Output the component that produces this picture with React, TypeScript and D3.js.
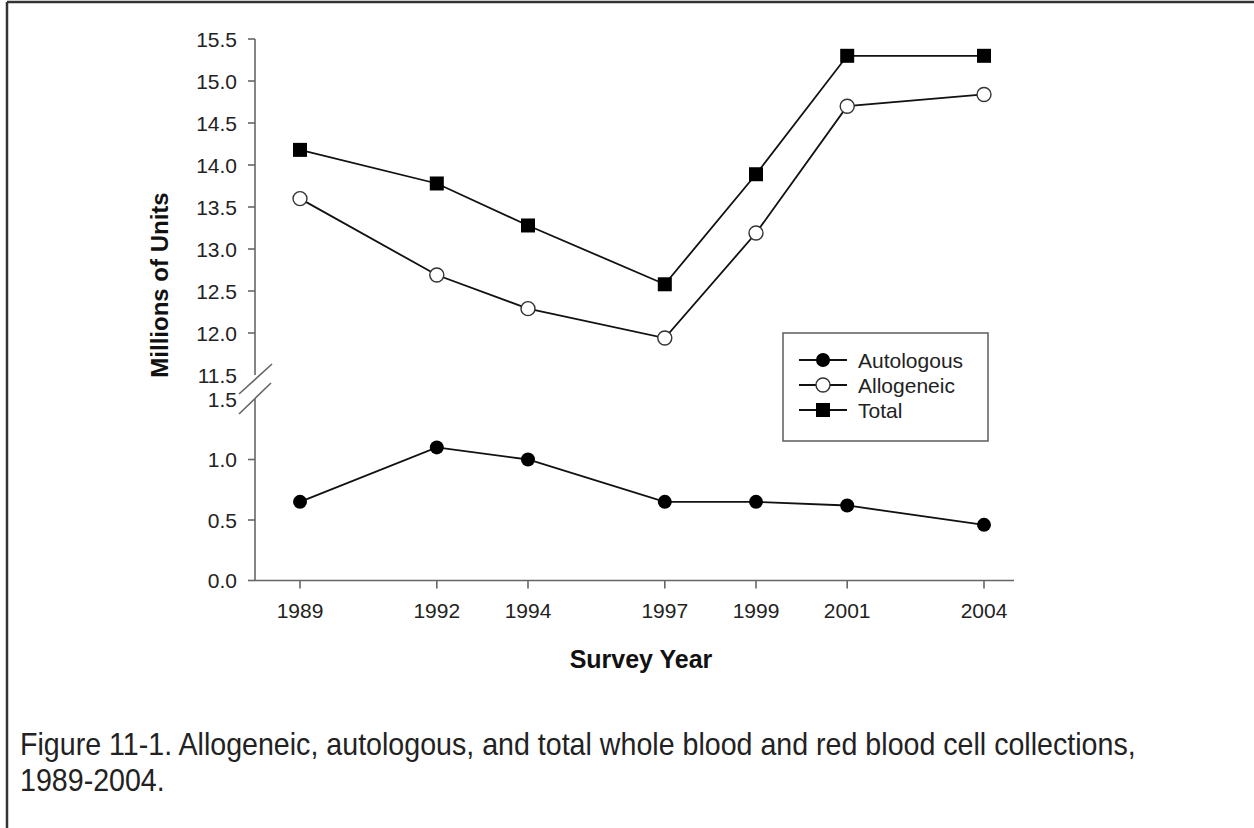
import { useMemo } from "react";
import * as d3 from "d3";

// survey years and values (millions of units)
const years = [1989, 1992, 1994, 1997, 1999, 2001, 2004];
const totalUnits = [14.18, 13.78, 13.28, 12.58, 13.89, 15.3, 15.3];
const allogeneicUnits = [13.6, 12.69, 12.29, 11.94, 13.19, 14.7, 14.84];
const autologousUnits = [0.65, 1.1, 1.0, 0.65, 0.65, 0.62, 0.46];

const upperTicks = [11.5, 12.0, 12.5, 13.0, 13.5, 14.0, 14.5, 15.0, 15.5];
const lowerTicks = [0.0, 0.5, 1.0, 1.5];

const legendItems = ["Autologous", "Allogeneic", "Total"];

const captionLines = [
  "Figure 11-1. Allogeneic, autologous, and total whole blood and red blood cell collections,",
  "1989-2004.",
];

const W = 1254;
const H = 828;
const axisX = 255;
const axisRight = 1014;
const axisGrey = "#666";
const tickFont = "Arial, 'Liberation Sans', sans-serif";

export default function App() {
  const x = useMemo(
    () => d3.scaleLinear().domain([1989, 2004]).range([300, 984]),
    []
  );
  // broken y axis: upper and lower segments
  const yUp = useMemo(
    () => d3.scaleLinear().domain([11.5, 15.5]).range([375, 39]),
    []
  );
  const yLow = useMemo(
    () => d3.scaleLinear().domain([0, 1.5]).range([580.5, 399]),
    []
  );

  const lineUp = d3
    .line<number>()
    .x((_, i) => x(years[i]))
    .y((d) => yUp(d));
  const lineLow = d3
    .line<number>()
    .x((_, i) => x(years[i]))
    .y((d) => yLow(d));

  const base = yLow(0);
  const breakY1 = yUp(11.5) + 4;
  const breakY2 = yLow(1.5);

  return (
    <svg
      width={W}
      height={H}
      style={{ position: "absolute", left: 0, top: 0, background: "#fff" }}
    >
      <rect width={W} height={H} fill="#fff" />
      {/* frame: top and left only */}
      <line x1={7} y1={2} x2={W} y2={2} stroke="#333" strokeWidth={2.5} />
      <line x1={7} y1={2} x2={7} y2={H} stroke="#333" strokeWidth={2.5} />

      {/* axes */}
      <g stroke={axisGrey} strokeWidth={1.6} fill="none">
        <line x1={axisX} y1={yUp(15.5)} x2={axisX} y2={yUp(11.5)} />
        <line x1={axisX} y1={yLow(1.5)} x2={axisX} y2={base} />
        <line x1={axisX} y1={base} x2={axisRight} y2={base} />
        {upperTicks.slice(1).map((t) => (
          <line key={"u" + t} x1={axisX - 7} x2={axisX} y1={yUp(t)} y2={yUp(t)} />
        ))}
        {lowerTicks.slice(0, 3).map((t) => (
          <line key={"l" + t} x1={axisX - 7} x2={axisX} y1={yLow(t)} y2={yLow(t)} />
        ))}
        {years.map((yr) => (
          <line key={"x" + yr} x1={x(yr)} x2={x(yr)} y1={base} y2={base + 8} />
        ))}
        {/* break marks */}
        <line x1={axisX - 16} y1={breakY1 + 15} x2={axisX + 17} y2={breakY1 - 15} />
        <line x1={axisX - 16} y1={breakY2 + 15} x2={axisX + 16} y2={breakY2 - 16} />
      </g>

      <g fontFamily={tickFont} fontSize={21} fill="#222" textAnchor="end">
        {upperTicks.map((t) => (
          <text key={"ut" + t} x={axisX - 18} y={yUp(t) + 7.5}>
            {t.toFixed(1)}
          </text>
        ))}
        {lowerTicks.map((t) => (
          <text key={"lt" + t} x={axisX - 18} y={yLow(t) + 7.5}>
            {t.toFixed(1)}
          </text>
        ))}
      </g>
      <g fontFamily={tickFont} fontSize={21} fill="#222" textAnchor="middle">
        {years.map((yr) => (
          <text key={"xt" + yr} x={x(yr)} y={618}>
            {yr}
          </text>
        ))}
      </g>

      {/* axis titles */}
      <text
        x={641}
        y={668}
        textAnchor="middle"
        fontFamily={tickFont}
        fontWeight="bold"
        fontSize={25}
        fill="#111"
      >
        Survey Year
      </text>
      <text
        transform={`translate(168, 285) rotate(-90)`}
        textAnchor="middle"
        fontFamily={tickFont}
        fontWeight="bold"
        fontSize={24}
        fill="#111"
      >
        Millions of Units
      </text>

      {/* series lines */}
      <g fill="none" stroke="#111" strokeWidth={1.8}>
        <path d={lineUp(totalUnits) || ""} />
        <path d={lineUp(allogeneicUnits) || ""} />
        <path d={lineLow(autologousUnits) || ""} />
      </g>

      {/* markers */}
      {totalUnits.map((v, i) => (
        <rect
          key={"tm" + i}
          x={x(years[i]) - 7}
          y={yUp(v) - 7}
          width={14}
          height={14}
          fill="#000"
        />
      ))}
      {allogeneicUnits.map((v, i) => (
        <circle
          key={"am" + i}
          cx={x(years[i])}
          cy={yUp(v)}
          r={7}
          fill="#fff"
          stroke="#333"
          strokeWidth={1.4}
        />
      ))}
      {autologousUnits.map((v, i) => (
        <circle key={"om" + i} cx={x(years[i])} cy={yLow(v)} r={7} fill="#000" />
      ))}

      {/* legend */}
      <rect x={783} y={333} width={205} height={108} fill="#fff" stroke={axisGrey} strokeWidth={1.6} />
      {legendItems.map((name, i) => {
        const ly = 360 + i * 25;
        return (
          <g key={name}>
            <line x1={799} x2={847} y1={ly} y2={ly} stroke="#111" strokeWidth={1.8} />
            {i === 0 && <circle cx={823} cy={ly} r={7} fill="#000" />}
            {i === 1 && (
              <circle cx={823} cy={ly} r={7} fill="#fff" stroke="#333" strokeWidth={1.4} />
            )}
            {i === 2 && <rect x={816} y={ly - 7} width={14} height={14} fill="#000" />}
            <text x={858} y={ly + 7.5} fontFamily={tickFont} fontSize={21} fill="#222">
              {name}
            </text>
          </g>
        );
      })}

      {/* caption, condensed */}
      <g
        transform="translate(20, 0) scale(0.894, 1)"
        fontFamily="'Liberation Sans Narrow', 'Arial Narrow', Arial, 'Liberation Sans', sans-serif"
        fontSize={32}
        fill="#222"
      >
        {captionLines.map((line, i) => (
          <text key={i} x={0} y={755 + i * 36}>
            {line}
          </text>
        ))}
      </g>
    </svg>
  );
}
